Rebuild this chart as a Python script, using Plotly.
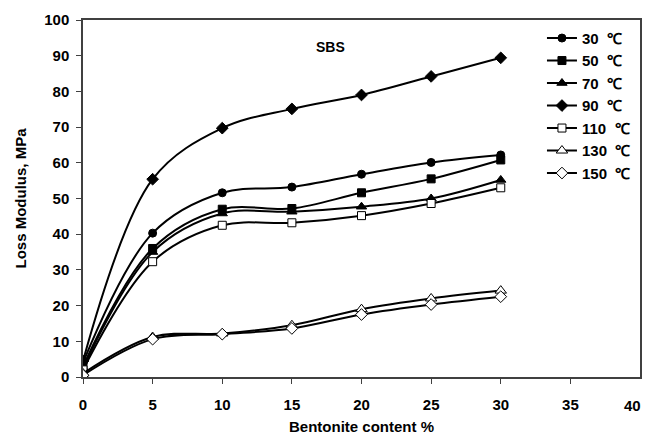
import plotly.graph_objects as go

bentonite = [0, 5, 10, 15, 20, 25, 30]
labels = ["30  ℃", "50  ℃", "70  ℃", "90  ℃", "110  ℃", "130  ℃", "150  ℃"]
loss_30 = [4.0, 40.3, 51.6, 53.2, 56.8, 60.1, 62.2]
loss_50 = [3.0, 36.0, 47.0, 47.2, 51.6, 55.5, 60.8]
loss_70 = [2.5, 35.0, 45.8, 46.3, 47.7, 50.0, 55.2]
loss_90 = [4.5, 55.4, 69.7, 75.1, 79.0, 84.2, 89.4]
loss_110 = [2.0, 32.3, 42.5, 43.2, 45.2, 48.6, 53.0]
loss_130 = [1.0, 11.2, 12.2, 14.5, 19.0, 22.0, 24.2]
loss_150 = [0.5, 10.6, 12.0, 13.6, 17.5, 20.3, 22.5]
x_ticks = [0, 5, 10, 15, 20, 25, 30, 35]
x_tick_labels = ["0", "5", "10", "15", "20", "25", "30", "35"]

series = [loss_30, loss_50, loss_70, loss_90, loss_110, loss_130, loss_150]
symbols = ["circle", "square", "triangle-up", "diamond", "square", "triangle-up", "diamond"]
fills = ["black", "black", "black", "black", "white", "white", "white"]
sizes = [8, 8, 9, 9, 8, 10, 9]

FONT = "Arial, Liberation Sans, sans-serif"
BOLD = dict(family=FONT, size=15, color="black", weight="bold")

fig = go.Figure()
for lab, ys, sym, fc, sz in zip(labels, series, symbols, fills, sizes):
    fig.add_trace(go.Scatter(
        x=bentonite, y=ys, name=lab, mode="lines+markers",
        line=dict(color="black", width=2, shape="spline", smoothing=1.0),
        marker=dict(symbol=sym, size=sz, color=fc, line=dict(color="black", width=1)),
    ))

fig.add_annotation(x=17.8, y=92.5, text="SBS", showarrow=False,
                   font=dict(family=FONT, size=14, color="black", weight="bold"))
# last x tick label, drawn slightly inside the frame as in the reference
fig.add_annotation(x=0.986, xref="paper", y=0, yref="paper", xanchor="center", yanchor="middle",
                   yshift=-28, text="40", showarrow=False, font=BOLD)

axis_common = dict(
    showgrid=False, zeroline=False, showline=True, linecolor="#404040", linewidth=1.5,
    mirror=True, ticks="outside", ticklen=5, tickcolor="#404040", tickwidth=1,
    tickfont=BOLD, automargin=False,
)

fig.update_xaxes(range=[0, 40], tickmode="array", tickvals=x_ticks, ticktext=x_tick_labels,
                 title=dict(text="Bentonite content %", font=BOLD, standoff=10),
                 ticklabelstandoff=8, **axis_common)
fig.update_yaxes(range=[0, 100], dtick=10, tick0=0,
                 title=dict(text="Loss Modulus, MPa", font=BOLD, standoff=14),
                 ticklabelstandoff=4, **axis_common)

fig.update_layout(
    width=651, height=439,
    margin=dict(l=83, r=11, t=20, b=62, autoexpand=False),
    paper_bgcolor="white", plot_bgcolor="white",
    font=BOLD,
    showlegend=True,
    legend=dict(x=0.824, y=0.995, xanchor="left", yanchor="top",
                bgcolor="rgba(255,255,255,0)", borderwidth=0,
                font=dict(family=FONT, size=15, color="black", weight="bold"),
                tracegroupgap=0, itemwidth=30),
)

fig.write_html("out.html", config={"displayModeBar": False},
               post_script="document.body.style.margin='0';document.body.style.overflow='hidden';")
